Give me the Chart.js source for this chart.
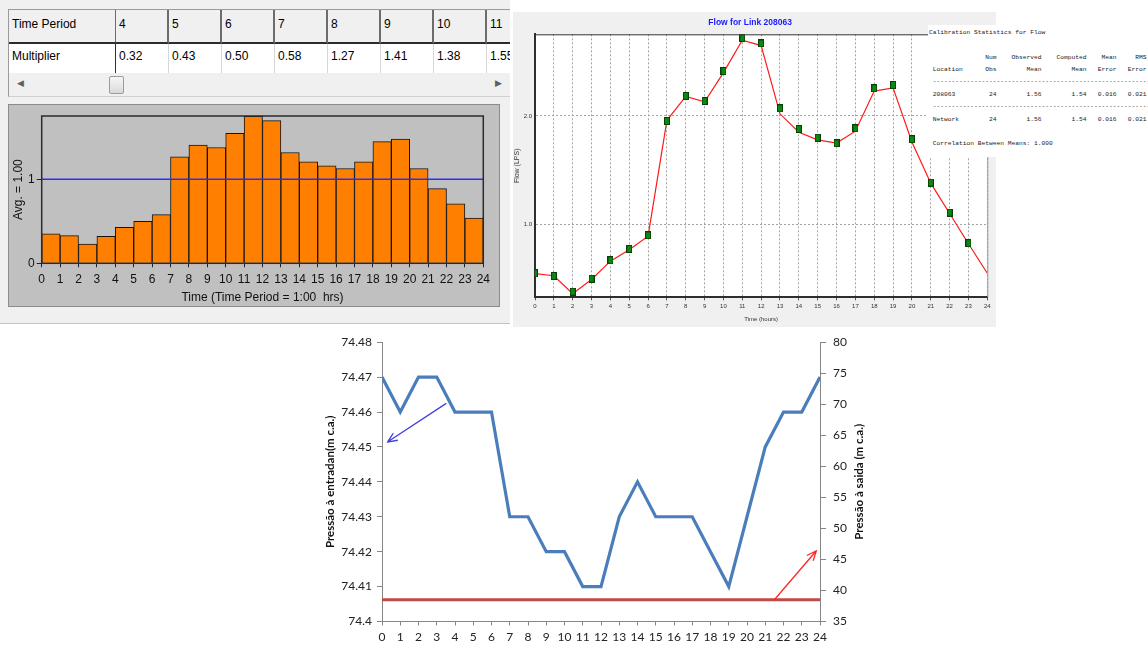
<!DOCTYPE html>
<html>
<head>
<meta charset="utf-8">
<script src="https://cdn.jsdelivr.net/npm/chart.js@4.4.1/dist/chart.umd.min.js"></script>
<style>
  html, body { margin: 0; padding: 0; }
  body { width: 1148px; height: 646px; position: relative; overflow: hidden; background: #fff;
         font-family: "Liberation Sans", Arial, sans-serif; }
  .abs { position: absolute; }
  #patternWin { left: 0; top: 0; width: 510px; height: 323px; background: #f0f0f0; border-bottom: 1px solid #c4c4c4; }
  #grid { left: 8px; top: 9px; width: 502px; height: 64px; overflow: hidden; background: #fff;
          border-top: 1px solid #9a9a9a; border-left: 1px solid #9a9a9a; box-sizing: border-box; }
  .cell { position: absolute; box-sizing: border-box; font-size: 12px; color: #000; white-space: nowrap; overflow: hidden; }
  .hdr { top: 0; height: 34px; background: #f0f0f0; border-right: 2px solid #6c6c6c; border-bottom: 2px solid #2c2c2c; padding: 7px 0 0 3px; }
  .dat { top: 34px; height: 30px; background: #fff; border-right: 1px solid #d6d6d6; padding: 5px 0 0 3px; }
  .first.dat { border-right: 2px solid #303030; }
  #scroll { left: 8px; top: 73px; width: 502px; height: 24px; background: #f0f0f0; box-sizing: border-box;
            border-left: 1px solid #9a9a9a; border-bottom: 1px solid #d0d0d0; }
  #thumb { left: 100px; top: 3px; width: 15px; height: 18px; box-sizing: border-box; border: 1px solid #9c9c9c;
           border-radius: 2px; background: linear-gradient(#f6f6f6, #dadada); }
  .arrow { top: 5px; font-size: 9px; color: #606060; }
  #barPanel { left: 8px; top: 104px; width: 492px; height: 203px; background: #c0c0c0; box-sizing: border-box;
              border: 1px solid #8c8c8c; }
  #patternChart { left: 8px; top: 104px; }
  #flowPanel { left: 513px; top: 12px; width: 483px; height: 315px; background: #f0f0f0; }
  #flowChart { left: 513px; top: 12px; }
  #statsBox { left: 928px; top: 25px; width: 220px; height: 132px; background: #fff; overflow: hidden; }
  #statsText { position: absolute; left: 1px; top: 0.5px; margin: 0; transform: scale(0.5); transform-origin: 0 0;
               font-family: "Liberation Mono", "DejaVu Sans Mono", monospace; font-size: 12.5px; line-height: 24.8px;
               color: #222; white-space: pre; }
  #pressureChart { left: 300px; top: 328px; }
</style>
</head>
<body>
<div id="patternWin" class="abs">
  <div id="grid" class="abs"></div>
  <div id="scroll" class="abs">
    <div class="abs arrow" style="left:8px">&#9664;</div>
    <div id="thumb" class="abs"></div>
    <div class="abs arrow" style="left:486px">&#9654;</div>
  </div>
</div>
<div id="barPanel" class="abs"></div>
<canvas id="patternChart" class="abs" width="492" height="203"></canvas>

<div id="flowPanel" class="abs"></div>
<canvas id="flowChart" class="abs" width="483" height="315"></canvas>
<div id="statsBox" class="abs"><pre id="statsText"></pre></div>

<canvas id="pressureChart" class="abs" width="580" height="318"></canvas>

<script>
// ---- Demand pattern (hourly multipliers, periods 1..24) ----
const hourTicks = [0, 1, 2, 3, 4, 5, 6, 7, 8, 9, 10, 11, 12, 13, 14, 15, 16, 17, 18, 19, 20, 21, 22, 23, 24];
const multipliers = [0.35, 0.33, 0.23, 0.32, 0.43, 0.50, 0.58, 1.27, 1.41, 1.38, 1.55, 1.75,
                     1.70, 1.32, 1.21, 1.16, 1.13, 1.21, 1.45, 1.48, 1.13, 0.89, 0.71, 0.54];
const patternAverage = 1.00;
const tablePeriods = [4, 5, 6, 7, 8, 9, 10, 11];

// ---- Flow for link 208063 (LPS) ----
const flowHours = [0, 1, 2, 3, 4, 5, 6, 7, 8, 9, 10, 11, 12, 13, 14, 15, 16, 17, 18, 19, 20, 21, 22, 23, 24];
const observedFlow = [0.548, 0.523, 0.378, 0.498, 0.668, 0.772, 0.898, 1.954, 2.185, 2.138, 2.415, 2.720,
                      2.670, 2.070, 1.880, 1.800, 1.748, 1.886, 2.255, 2.286, 1.785, 1.385, 1.108, 0.825];
const computedFlow = [0.545, 0.525, 0.360, 0.490, 0.660, 0.765, 0.890, 1.960, 2.180, 2.130, 2.400, 2.700,
                      2.650, 2.020, 1.850, 1.780, 1.750, 1.860, 2.230, 2.260, 1.760, 1.380, 1.100, 0.820, 0.548];
const flowTicks = [1, 2];
const calibrationHeader = [['', 'Num', 'Observed', 'Computed', 'Mean', 'RMS'],
                           ['Location', 'Obs', 'Mean', 'Mean', 'Error', 'Error']];
const calibrationRows = [['208063', '24', '1.56', '1.54', '0.016', '0.021'],
                         ['Network', '24', '1.56', '1.54', '0.016', '0.021']];
const correlationBetweenMeans = '1.000';

// ---- Inlet / outlet pressure (m c.a.) ----
const pressureHours = [0, 1, 2, 3, 4, 5, 6, 7, 8, 9, 10, 11, 12, 13, 14, 15, 16, 17, 18, 19, 20, 21, 22, 23, 24];
const inletPressure = [74.47, 74.46, 74.47, 74.47, 74.46, 74.46, 74.46, 74.43, 74.43, 74.42, 74.42, 74.41, 74.41,
                       74.43, 74.44, 74.43, 74.43, 74.43, 74.42, 74.41, 74.43, 74.45, 74.46, 74.46, 74.47];
const outletPressure = [38.5, 38.5, 38.5, 38.5, 38.5, 38.5, 38.5, 38.5, 38.5, 38.5, 38.5, 38.5, 38.5,
                        38.5, 38.5, 38.5, 38.5, 38.5, 38.5, 38.5, 38.5, 38.5, 38.5, 38.5, 38.5];
const inletArrow = [[3.5, 74.4624], [0.3, 74.4514]];
const outletArrow = [[21.5, 38.5], [23.8, 46.4]];

// ---------------------------------------------------------------------------
// Pattern editor grid
const grid = document.getElementById('grid');
const colX = [107, 160, 213, 266, 319, 372, 425, 478];
function addCell(cls, left, width, text) {
  const d = document.createElement('div');
  d.className = 'cell ' + cls;
  d.style.left = left + 'px';
  d.style.width = width + 'px';
  d.textContent = text;
  grid.appendChild(d);
}
addCell('hdr first', 0, 108, 'Time Period');
addCell('dat first', 0, 108, 'Multiplier');
tablePeriods.forEach((p, i) => {
  addCell('hdr', colX[i], 53, String(p));
  addCell('dat', colX[i], 53, multipliers[p - 1].toFixed(2));
});

// Calibration statistics report
const pad = (s, n) => s.padStart(n);
const lines = [];
lines.push('Calibration Statistics for Flow');
lines.push('');
calibrationHeader.forEach(r => lines.push(' ' + r[0].padEnd(14) + pad(r[1], 3) + pad(r[2], 12) + pad(r[3], 12) + pad(r[4], 8) + pad(r[5], 8)));
calibrationRows.forEach(r => {
  lines.push(' ' + '-'.repeat(60));
  lines.push(' ' + r[0].padEnd(14) + pad(r[1], 3) + pad(r[2], 12) + pad(r[3], 12) + pad(r[4], 8) + pad(r[5], 8));
});
lines.push('');
lines.push(' Correlation Between Means: ' + correlationBetweenMeans);
document.getElementById('statsText').textContent = lines.join('\n');

// ---------------------------------------------------------------------------
const sans = '"Liberation Sans", Arial, sans-serif';
const framePlugin = {
  id: 'frame',
  afterDraw(chart, args, opts) {
    const { ctx, chartArea: a } = chart;
    ctx.save();
    if (opts.mode === 'box') {
      ctx.strokeStyle = '#2a2a2a';
      ctx.lineWidth = 1.5;
      ctx.strokeRect(a.left, a.top, a.right - a.left, a.bottom - a.top);
    } else if (opts.mode === 'topRight') {
      ctx.strokeStyle = '#333';
      ctx.lineWidth = 1;
      ctx.beginPath(); ctx.moveTo(a.left, a.top + 0.5); ctx.lineTo(a.right, a.top + 0.5); ctx.stroke();
      ctx.strokeStyle = '#9a9a9a';
      ctx.beginPath(); ctx.moveTo(a.right + 0.5, a.top); ctx.lineTo(a.right + 0.5, a.bottom); ctx.stroke();
    }
    ctx.restore();
  }
};
const areaFill = {
  id: 'areaFill',
  beforeDraw(chart, args, opts) {
    if (!opts.color) return;
    const { ctx, chartArea: a } = chart;
    ctx.save(); ctx.fillStyle = opts.color; ctx.fillRect(a.left, a.top, a.right - a.left, a.bottom - a.top); ctx.restore();
  }
};
Chart.register(framePlugin, areaFill);

// Demand pattern bars
new Chart(document.getElementById('patternChart'), {
  type: 'bar',
  data: {
    datasets: [
      { type: 'line', data: [{ x: hourTicks[0], y: patternAverage }, { x: hourTicks[24], y: patternAverage }],
        borderColor: '#2c2cff', borderWidth: 1.5, pointRadius: 0, order: 0 },
      { data: multipliers.map((m, i) => ({ x: (hourTicks[i] + hourTicks[i + 1]) / 2, y: m })),
        backgroundColor: '#ff8000', borderColor: '#141414', borderWidth: 1,
        barPercentage: 1, categoryPercentage: 1, order: 1 }
    ]
  },
  options: {
    responsive: false, animation: false, events: [],
    layout: { padding: { left: 0, right: 16.7, top: 12, bottom: 0 } },
    plugins: { legend: { display: false }, tooltip: { enabled: false }, frame: { mode: 'box' } },
    scales: {
      x: {
        type: 'linear', min: 0, max: 24, offset: false,
        grid: { offset: false, drawOnChartArea: false, tickLength: 4, color: '#222' },
        border: { display: false },
        ticks: { stepSize: 1, autoSkip: false, maxRotation: 0, padding: 5, color: '#111', font: { family: sans, size: 12 } },
        title: { display: true, text: 'Time (Time Period = 1:00  hrs)', color: '#111', font: { family: sans, size: 12 }, padding: { top: 0, bottom: 2 } },
        afterFit(s) { s.height = 43.7; }
      },
      y: {
        min: 0, max: 1.755,
        afterBuildTicks(s) { s.ticks = [{ value: 0 }, { value: patternAverage }]; },
        grid: { drawOnChartArea: false, tickLength: 5, color: '#222' },
        border: { display: false },
        ticks: { padding: 2, color: '#111', font: { family: sans, size: 12 }, callback: v => String(v) },
        title: { display: true, text: 'Avg. = ' + patternAverage.toFixed(2), color: '#111', font: { family: sans, size: 12 }, padding: { top: 3, bottom: 0 } },
        afterFit(s) { s.width = 33.7; }
      }
    }
  }
});

// Flow for link 208063
function markerImage() {
  const c = document.createElement('canvas');
  c.width = 6; c.height = 8;
  const g = c.getContext('2d');
  g.fillStyle = '#0a3f0a'; g.fillRect(0, 0, 6, 8);
  g.fillStyle = '#0c8a10'; g.fillRect(1, 1, 4, 6);
  return c;
}
new Chart(document.getElementById('flowChart'), {
  type: 'line',
  data: {
    datasets: [
      { label: 'Observed', data: observedFlow.map((v, i) => ({ x: flowHours[i], y: v })), showLine: false,
        pointStyle: markerImage(), pointRadius: 4, order: 0 },
      { label: 'Computed', data: computedFlow.map((v, i) => ({ x: flowHours[i], y: v })),
        borderColor: '#ff1a1a', borderWidth: 1.2, pointRadius: 0, tension: 0, order: 1 }
    ]
  },
  options: {
    responsive: false, animation: false, events: [],
    layout: { padding: { left: 0, right: 8.7, top: 0, bottom: 0 } },
    plugins: {
      legend: { display: false }, tooltip: { enabled: false },
      title: { display: true, text: 'Flow for Link 208063', color: '#1c1cff',
               font: { family: sans, size: 8.5, weight: 'bold' }, padding: { top: 6, bottom: 6.1 } },
      frame: { mode: 'topRight' }, areaFill: { color: '#ffffff' }
    },
    scales: {
      x: {
        type: 'linear', min: 0, max: 24,
        grid: { color: '#a4a4a4', tickLength: 3, tickColor: '#555' },
        border: { display: true, color: '#2e2e2e', width: 2, dash: [2, 2] },
        ticks: { stepSize: 1, autoSkip: false, maxRotation: 0, padding: 2, color: '#333', font: { family: sans, size: 6 } },
        title: { display: true, text: 'Time (hours)', color: '#333', font: { family: sans, size: 6 }, padding: { top: 0, bottom: 4 } },
        afterFit(s) { s.height = 29.7; }
      },
      y: {
        min: 0.326, max: 2.754,
        afterBuildTicks(s) { s.ticks = flowTicks.map(v => ({ value: v })); },
        grid: { color: '#a4a4a4', drawTicks: false },
        border: { display: true, color: '#2e2e2e', width: 2, dash: [2, 2] },
        ticks: { padding: 3, color: '#333', font: { family: sans, size: 6 }, callback: v => v.toFixed(1) },
        title: { display: true, text: 'Flow (LPS)', color: '#333', font: { family: sans, size: 7 }, padding: { top: 0, bottom: 0 } },
        afterFit(s) { s.width = 22; }
      }
    }
  }
});

// Inlet / outlet pressure
const calibri = 'Lato, "Open Sans", sans-serif';
const outletTitle = 'Pressão à saida (m c.a.)';
const pressureDecor = {
  id: 'pressureDecor',
  afterDatasetsDraw(chart) {
    const { ctx, scales: { x, y, y2 } } = chart;
    drawArrow(ctx, x, y, inletArrow, '#4040e0');
    drawArrow(ctx, x, y2, outletArrow, '#ff2626');
  },
  afterDraw(chart) {
    const { ctx, chartArea: a, scales: { y2 } } = chart;
    ctx.save();
    ctx.translate(y2.right - 21, (a.top + a.bottom) / 2);
    ctx.rotate(-Math.PI / 2);
    ctx.textAlign = 'center'; ctx.textBaseline = 'middle';
    ctx.font = 'bold 11.5px ' + calibri;
    ctx.fillStyle = '#111';
    ctx.fillText(outletTitle, 0, 0);
    ctx.restore();
  }
};
function drawArrow(ctx, xs, ys, pts, color) {
  const x0 = xs.getPixelForValue(pts[0][0]), y0 = ys.getPixelForValue(pts[0][1]);
  const x1 = xs.getPixelForValue(pts[1][0]), y1 = ys.getPixelForValue(pts[1][1]);
  const ang = Math.atan2(y1 - y0, x1 - x0), h = 10;
  ctx.save();
  ctx.strokeStyle = color; ctx.lineWidth = 1.3; ctx.lineCap = 'round';
  ctx.beginPath();
  ctx.moveTo(x0, y0); ctx.lineTo(x1, y1);
  ctx.moveTo(x1, y1); ctx.lineTo(x1 - h * Math.cos(ang - 0.4), y1 - h * Math.sin(ang - 0.4));
  ctx.moveTo(x1, y1); ctx.lineTo(x1 - h * Math.cos(ang + 0.4), y1 - h * Math.sin(ang + 0.4));
  ctx.stroke();
  ctx.restore();
}
new Chart(document.getElementById('pressureChart'), {
  type: 'line',
  data: {
    datasets: [
      { data: inletPressure.map((v, i) => ({ x: pressureHours[i], y: v })), yAxisID: 'y',
        borderColor: '#4a7ebb', borderWidth: 3.2, pointRadius: 0, tension: 0 },
      { data: outletPressure.map((v, i) => ({ x: pressureHours[i], y: v })), yAxisID: 'y2',
        borderColor: '#be4b48', borderWidth: 3, pointRadius: 0, tension: 0 }
    ]
  },
  plugins: [pressureDecor],
  options: {
    responsive: false, animation: false, events: [],
    layout: { padding: { left: 0, right: 0, top: 11, bottom: 0 } },
    plugins: { legend: { display: false }, tooltip: { enabled: false } },
    scales: {
      x: {
        type: 'linear', min: 0, max: 24,
        grid: { drawOnChartArea: false, tickLength: 4, color: '#868686' },
        border: { color: '#868686' },
        ticks: { stepSize: 1, autoSkip: false, maxRotation: 0, padding: 4, color: '#222', font: { family: calibri, size: 12 } },
        afterFit(s) { s.height = 24.5; }
      },
      y: {
        position: 'left', min: 74.4, max: 74.48,
        grid: { drawOnChartArea: false, tickLength: 5, color: '#868686' },
        border: { color: '#868686' },
        ticks: { stepSize: 0.01, padding: 5, color: '#222', font: { family: calibri, size: 12 },
                 callback: v => String(Number(v.toFixed(2))) },
        title: { display: true, text: 'Pressão à entradan(m c.a.)', color: '#111',
                 font: { family: calibri, size: 11.5, weight: 'bold' }, padding: { top: 23, bottom: 0 } },
        afterFit(s) { s.width = 82; }
      },
      y2: {
        position: 'right', min: 35, max: 80,
        grid: { drawOnChartArea: false, tickLength: 6, color: '#868686' },
        border: { color: '#868686' },
        ticks: { stepSize: 5, padding: 7, color: '#222', font: { family: calibri, size: 12 } },
        afterFit(s) { s.width = 60; }
      }
    }
  }
});
</script>
</body>
</html>
